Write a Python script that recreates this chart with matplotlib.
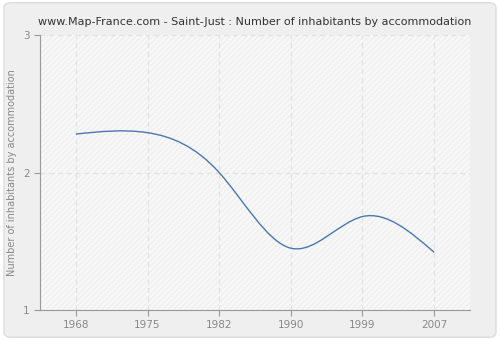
import matplotlib
matplotlib.use("Agg")
import matplotlib.pyplot as plt
from matplotlib.path import Path
from matplotlib.patches import PathPatch, FancyBboxPatch, Rectangle
import numpy as np

years = ["1968", "1975", "1982", "1990", "1999", "2007"]
values = [2.28, 2.29, 2.0, 1.45, 1.68, 1.42]


def smooth_path(xs, ys):
    # bezier through the points, tangents from a natural cubic spline
    xs = np.asarray(xs, float)
    ys = np.asarray(ys, float)
    n = len(xs)
    A = np.zeros((n, n))
    b = np.zeros(n)
    A[0, 0], A[0, 1], b[0] = 2, 1, 3 * (ys[1] - ys[0])
    A[-1, -2], A[-1, -1], b[-1] = 1, 2, 3 * (ys[-1] - ys[-2])
    for i in range(1, n - 1):
        A[i, i - 1], A[i, i], A[i, i + 1] = 1, 4, 1
        b[i] = 3 * (ys[i + 1] - ys[i - 1])
    d = np.linalg.solve(A, b)
    verts = [(xs[0], ys[0])]
    codes = [Path.MOVETO]
    for i in range(n - 1):
        h = xs[i + 1] - xs[i]
        verts += [(xs[i] + h / 3, ys[i] + d[i] * h / 3),
                  (xs[i + 1] - h / 3, ys[i + 1] - d[i + 1] * h / 3),
                  (xs[i + 1], ys[i + 1])]
        codes += [Path.CURVE4] * 3
    return Path(verts, codes)


def main():
    fig = plt.figure(figsize=(5, 3.4), dpi=100)
    fig.patch.set_facecolor("white")
    bg = FancyBboxPatch((0.008, 0.008), 0.984, 0.984, boxstyle="round,pad=0,rounding_size=0.015",
                        transform=fig.transFigure, facecolor="#efefef", edgecolor="#dddddd",
                        linewidth=1, zorder=-10)
    fig.patches.append(bg)

    ax = fig.add_axes([0.08, 0.088, 0.86, 0.809])
    ax.set_facecolor("#f8f8f8")
    x = np.arange(len(years))
    ax.set_xlim(-0.5, len(years) - 0.5)
    ax.set_ylim(1, 3)

    hatch = Rectangle((-0.5, 1), len(years), 2, facecolor="none", edgecolor="#efefef",
                      hatch="//////", linewidth=0, zorder=0)
    ax.add_patch(hatch)

    ax.add_patch(PathPatch(smooth_path(x, values), facecolor="none",
                           edgecolor="#4a77b0", linewidth=1, zorder=3))

    ax.set_xticks(x)
    ax.set_xticklabels(years)
    ax.set_yticks([1, 2, 3])
    ax.grid(True, color="#e2e2e2", linestyle=(0, (4, 3)), linewidth=0.9)
    ax.set_axisbelow(True)
    for s in ["top", "right"]:
        ax.spines[s].set_visible(False)
    for s in ["left", "bottom"]:
        ax.spines[s].set_color("#999999")
    ax.tick_params(colors="#999999", labelcolor="#888888", labelsize=7.5, length=4)
    ax.set_ylabel("Number of inhabitants by accommodation", color="#888888", fontsize=7)
    ax.set_title("www.Map-France.com - Saint-Just : Number of inhabitants by accommodation",
                 fontsize=8, color="#333333", pad=7)
    fig.savefig("out.png", dpi=100, facecolor=fig.get_facecolor())


if __name__ == '__main__':
    main()
